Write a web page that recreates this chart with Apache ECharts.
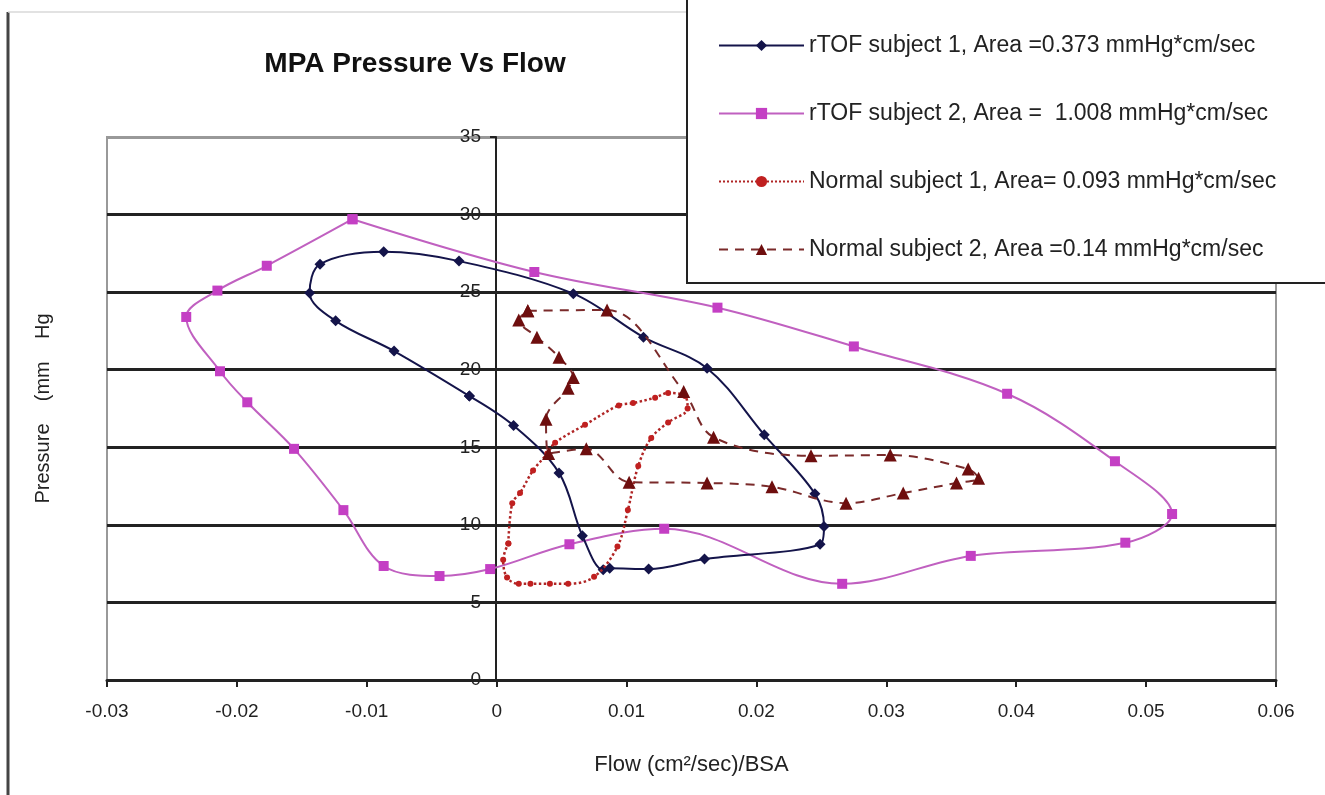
<!DOCTYPE html>
<html>
<head>
<meta charset="utf-8">
<script src="https://cdn.jsdelivr.net/npm/echarts@6/dist/echarts.min.js"></script>
<style>
  html, body { margin: 0; padding: 0; background: #fff; }
  #main { width: 1325px; height: 795px; }
</style>
</head>
<body>
<div id="main"></div>
<script>
// 数据：点 (flow, pressure)
var xTicks = [-0.03, -0.02, -0.01, 0, 0.01, 0.02, 0.03, 0.04, 0.05, 0.06];
var yTicks = [0, 5, 10, 15, 20, 25, 30, 35];

var rtof1Flow = [-0.0021, -0.0079, -0.0124, -0.0144, -0.0136, -0.0087, -0.0029, 0.0059, 0.0113, 0.0162, 0.0206, 0.0245, 0.0252, 0.0249, 0.0160, 0.0117, 0.0087, 0.0082, 0.0066, 0.0048, 0.0013, -0.0021];
var rtof1Pres = [18.3, 21.2, 23.15, 24.95, 26.8, 27.6, 27.0, 24.9, 22.1, 20.1, 15.8, 12.0, 9.9, 8.75, 7.8, 7.15, 7.2, 7.1, 9.3, 13.35, 16.4, 18.3];

var rtof2Flow = [-0.0111, 0.0029, 0.0170, 0.0275, 0.0393, 0.0476, 0.0520, 0.0484, 0.0365, 0.0266, 0.0129, 0.0056, -0.0005, -0.0044, -0.0087, -0.0118, -0.0156, -0.0192, -0.0213, -0.0239, -0.0215, -0.0177, -0.0111];
var rtof2Pres = [29.7, 26.3, 24.0, 21.5, 18.45, 14.1, 10.7, 8.85, 8.0, 6.2, 9.75, 8.75, 7.15, 6.7, 7.35, 10.95, 14.9, 17.9, 19.9, 23.4, 25.1, 26.7, 29.7];

var norm1Flow = [0.0009, 0.0012, 0.0018, 0.0028, 0.0039, 0.0045, 0.0068, 0.0094, 0.0105, 0.0122, 0.0132, 0.0145, 0.0147, 0.0132, 0.0119, 0.0109, 0.0101, 0.0093, 0.0075, 0.0055, 0.0041, 0.0026, 0.0017, 0.0008, 0.0005, 0.0009];
var norm1Pres = [8.8, 11.4, 12.05, 13.5, 14.6, 15.3, 16.45, 17.7, 17.85, 18.2, 18.5, 18.3, 17.5, 16.6, 15.6, 13.8, 10.95, 8.6, 6.65, 6.2, 6.2, 6.2, 6.2, 6.6, 7.75, 8.8];

var norm2Flow = [0.0024, 0.0085, 0.0144, 0.0167, 0.0242, 0.0303, 0.0363, 0.0371, 0.0354, 0.0313, 0.0269, 0.0212, 0.0162, 0.0102, 0.0069, 0.0040, 0.0038, 0.0055, 0.0059, 0.0048, 0.0031, 0.0017, 0.0024];
var norm2Pres = [23.8, 23.85, 18.6, 15.65, 14.45, 14.5, 13.6, 13.0, 12.7, 12.05, 11.4, 12.45, 12.7, 12.75, 14.9, 14.6, 16.8, 18.8, 19.5, 20.8, 22.1, 23.2, 23.8];

var seriesNames = [
  'rTOF subject 1, Area =0.373 mmHg*cm/sec',
  'rTOF subject 2, Area =  1.008 mmHg*cm/sec',
  'Normal subject 1, Area= 0.093 mmHg*cm/sec',
  'Normal subject 2, Area =0.14 mmHg*cm/sec'
];

function pairs(xs, ys) {
  var out = [];
  for (var i = 0; i < xs.length; i++) out.push([xs[i], ys[i]]);
  return out;
}

var chart = echarts.init(document.getElementById('main'));
var font = 'Liberation Sans, Arial, sans-serif';

var option = {
  backgroundColor: '#fff',
  animation: false,
  title: {
    text: 'MPA Pressure Vs Flow',
    left: 410,
    top: 45,
    textAlign: 'center',
    textStyle: { fontFamily: 'Liberation Sans Narrow, Liberation Sans, Arial', fontWeight: 'bold', fontSize: 28, color: '#111' }
  },
  graphic: [
    { type: 'line', shape: { x1: 8, y1: 12, x2: 8, y2: 795 }, style: { stroke: '#444', lineWidth: 3 } },
    { type: 'line', shape: { x1: 8, y1: 12, x2: 687, y2: 12 }, style: { stroke: '#d8d8d8', lineWidth: 1.5 } }
  ],
  legend: {
    orient: 'vertical',
    left: 687,
    top: -3,
    padding: [37, 80, 22, 31],
    itemGap: 45,
    itemWidth: 85,
    itemHeight: 14,
    backgroundColor: '#fff',
    borderColor: '#222',
    borderWidth: 2,
    textStyle: { fontFamily: font, fontSize: 23, color: '#222', lineHeight: 22 },
    data: seriesNames
  },
  grid: {
    left: 107,
    right: 49,
    top: 137,
    bottom: 115,
    containLabel: false,
    outerBoundsMode: 'none',
    show: true,
    borderColor: '#999',
    borderWidth: 2
  },
  xAxis: {
    type: 'value',
    min: xTicks[0],
    max: xTicks[xTicks.length - 1],
    interval: 0.01,
    name: 'Flow (cm²/sec)/BSA',
    nameLocation: 'middle',
    nameGap: 74,
    nameTextStyle: { fontFamily: font, fontSize: 22, color: '#222' },
    axisLine: { onZero: false, lineStyle: { color: '#222', width: 3 } },
    axisTick: { show: true, length: 7, lineStyle: { color: '#222', width: 2 } },
    axisLabel: { fontFamily: font, fontSize: 19, color: '#222', margin: 22 },
    splitLine: { show: false }
  },
  yAxis: {
    type: 'value',
    min: yTicks[0],
    max: yTicks[yTicks.length - 1],
    interval: 5,
    offset: -389,
    name: 'Pressure    (mm    Hg',
    nameLocation: 'middle',
    nameGap: 443,
    nameTextStyle: { fontFamily: font, fontSize: 20, color: '#222' },
    axisLine: { onZero: false, lineStyle: { color: '#222', width: 2 } },
    axisTick: { show: true, length: 6, lineStyle: { color: '#222', width: 2 } },
    axisLabel: { fontFamily: font, fontSize: 19, color: '#222', margin: 15 },
    splitLine: {
      show: true,
      lineStyle: { color: ['#222', '#222', '#222', '#222', '#222', '#222', '#222', '#999'], width: 3 }
    }
  },
  series: [
    {
      name: seriesNames[0],
      type: 'line',
      smooth: 0.35,
      data: pairs(rtof1Flow, rtof1Pres),
      symbol: 'diamond',
      symbolSize: 11,
      itemStyle: { color: '#14144a' },
      lineStyle: { color: '#14144a', width: 2 },
      z: 3
    },
    {
      name: seriesNames[1],
      type: 'line',
      smooth: 0.35,
      data: pairs(rtof2Flow, rtof2Pres),
      symbol: 'rect',
      symbolSize: 10,
      itemStyle: { color: '#c43fc4' },
      lineStyle: { color: '#c060c0', width: 2 },
      z: 2
    },
    {
      name: seriesNames[2],
      type: 'line',
      smooth: 0.35,
      data: pairs(norm1Flow, norm1Pres),
      symbol: 'circle',
      symbolSize: 6,
      itemStyle: { color: '#c02020' },
      lineStyle: { color: '#b02525', width: 2.5, type: 'dotted' },
      z: 4
    },
    {
      name: seriesNames[3],
      type: 'line',
      smooth: 0.35,
      data: pairs(norm2Flow, norm2Pres),
      symbol: 'triangle',
      symbolSize: 13,
      itemStyle: { color: '#6e0e0e' },
      lineStyle: { color: '#7a2a2a', width: 2, type: [9, 7] },
      z: 5
    }
  ]
};

chart.setOption(option);
window.onresize = function () { chart.resize(); };
</script>
</body>
</html>
